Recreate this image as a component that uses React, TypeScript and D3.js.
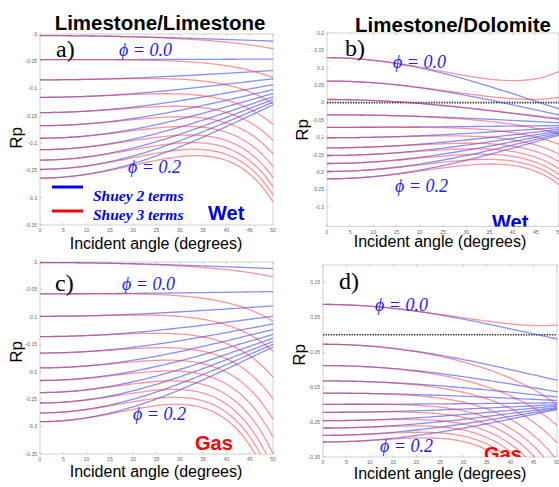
import React from 'react'
import * as d3 from 'd3'

// axis ticks
const angleTicks = [0, 5, 10, 15, 20, 25, 30, 35, 40, 45, 50]
const llTicks = [0, -0.05, -0.1, -0.15, -0.2, -0.25, -0.3, -0.35]
const ldWetTicks = [0.2, 0.15, 0.1, 0.05, 0, -0.05, -0.1, -0.15, -0.2, -0.25, -0.3]
const ldGasTicks = [0.15, 0.05, -0.05, -0.15, -0.25, -0.35]

// one value per porosity step (phi = 0.0 ... 0.2)
// r0 = Rp at normal incidence, blue50 / red50 = 2-term / 3-term Rp at 50 deg
const llWetR0 = [-0.003, -0.047, -0.084, -0.116, -0.144, -0.168, -0.191, -0.212, -0.231, -0.248, -0.264]
const llWetBlue50 = [-0.013, -0.046, -0.067, -0.082, -0.093, -0.102, -0.109, -0.115, -0.12, -0.125, -0.13]
const llWetRed50 = [-0.027, -0.08, -0.128, -0.166, -0.195, -0.22, -0.243, -0.263, -0.28, -0.295, -0.308]

const ldWetR0 = [0.129, 0.062, 0.009, -0.035, -0.071, -0.101, -0.13, -0.152, -0.175, -0.198, -0.219]
const ldWetBlue50 = [-0.018, -0.035, -0.048, -0.058, -0.066, -0.072, -0.077, -0.082, -0.086, -0.09, -0.094]
const ldWetRed50 = [0.09, 0.015, -0.045, -0.09, -0.12, -0.148, -0.17, -0.19, -0.207, -0.222, -0.236]

const llGasR0 = [-0.001, -0.058, -0.099, -0.136, -0.166, -0.193, -0.216, -0.238, -0.257, -0.275, -0.291]
const llGasBlue50 = [-0.012, -0.054, -0.08, -0.099, -0.113, -0.123, -0.132, -0.139, -0.145, -0.15, -0.155]
const llGasRed50 = [-0.027, -0.108, -0.163, -0.21, -0.25, -0.287, -0.32, -0.35, -0.377, -0.4, -0.42]

const ldGasR0 = [0.087, -0.027, -0.088, -0.132, -0.167, -0.199, -0.222, -0.246, -0.267, -0.288, -0.307]
const ldGasBlue50 = [-0.012, -0.13, -0.163, -0.178, -0.188, -0.195, -0.2, -0.204, -0.208, -0.211, -0.214]
const ldGasRed50 = [0.028, -0.2, -0.26, -0.31, -0.36, -0.4, -0.44, -0.48, -0.52, -0.56, -0.6]

const titles = ['Limestone/Limestone', 'Limestone/Dolomite']
const legendLabels = ['Shuey 2 terms', 'Shuey 3 terms']
const phiLabels = ['\u03d5 = 0.0', '\u03d5 = 0.2']

const sans = 'Liberation Sans, Arial, sans-serif'
const serif = 'Liberation Serif, Times New Roman, serif'

const rad = (a: number) => (a * Math.PI) / 180
const sin2 = (a: number) => Math.sin(rad(a)) ** 2
const tan2 = (a: number) => Math.tan(rad(a)) ** 2
const samples = d3.range(0, 50.001, 0.5)

type Panel = {
  id: string
  x0: number; x1: number; yTop: number; yBot: number
  yDomain: [number, number]
  yTicks: number[]
  r0: number[]; blue50: number[]; red50: number[]
  letter: string; letterPos: [number, number]
  phi0Pos: [number, number]; phi2Pos: [number, number]
  fluid: string; fluidColor: string; fluidPos: [number, number]
  zeroLine: boolean
  rpPos: [number, number]; xlabPos: [number, number]
  legend: boolean
}

const panels: Panel[] = [
  {
    id: 'a', x0: 40, x1: 273, yTop: 34, yBot: 225, yDomain: [-0.35, 0], yTicks: llTicks,
    r0: llWetR0, blue50: llWetBlue50, red50: llWetRed50,
    letter: 'a)', letterPos: [56, 57], phi0Pos: [119, 56], phi2Pos: [128, 173],
    fluid: 'Wet', fluidColor: '#0000e8', fluidPos: [208, 220], zeroLine: false,
    rpPos: [22, 138], xlabPos: [156, 249], legend: true,
  },
  {
    id: 'b', x0: 327, x1: 559, yTop: 33, yBot: 226.5, yDomain: [-0.356, 0.2], yTicks: ldWetTicks,
    r0: ldWetR0, blue50: ldWetBlue50, red50: ldWetRed50,
    letter: 'b)', letterPos: [345, 56], phi0Pos: [393, 68], phi2Pos: [395, 192],
    fluid: 'Wet', fluidColor: '#0000e8', fluidPos: [492, 229], zeroLine: true,
    rpPos: [308, 130], xlabPos: [440, 247], legend: false,
  },
  {
    id: 'c', x0: 40, x1: 273, yTop: 262, yBot: 454, yDomain: [-0.35, 0], yTicks: llTicks,
    r0: llGasR0, blue50: llGasBlue50, red50: llGasRed50,
    letter: 'c)', letterPos: [55, 291], phi0Pos: [122, 290], phi2Pos: [133, 420],
    fluid: 'Gas', fluidColor: '#ff0000', fluidPos: [195, 450], zeroLine: false,
    rpPos: [22, 352], xlabPos: [156, 477], legend: false,
  },
  {
    id: 'd', x0: 323, x1: 557, yTop: 265, yBot: 457, yDomain: [-0.35, 0.2], yTicks: ldGasTicks,
    r0: ldGasR0, blue50: ldGasBlue50, red50: ldGasRed50,
    letter: 'd)', letterPos: [339, 289], phi0Pos: [375, 311], phi2Pos: [380, 452],
    fluid: 'Gas', fluidColor: '#ff0000', fluidPos: [484, 461], zeroLine: true,
    rpPos: [305, 355], xlabPos: [440, 479], legend: false,
  },
]

function PanelView({ p }: { p: Panel }) {
  const x = d3.scaleLinear().domain([0, 50]).range([p.x0, p.x1])
  const y = d3.scaleLinear().domain(p.yDomain).range([p.yBot, p.yTop])

  // Shuey: A + B sin^2 + C (tan^2 - sin^2), B and C taken from the 50 deg readings
  const curve = (i: number, terms: number) => {
    const A = p.r0[i]
    const B = (p.blue50[i] - A) / sin2(50)
    const C = (p.red50[i] - p.blue50[i]) / (tan2(50) - sin2(50))
    const line = d3.line<number>()
      .x(a => x(a))
      .y(a => y(A + B * sin2(a) + (terms === 3 ? C * (tan2(a) - sin2(a)) : 0)))
    return line(samples) || ''
  }

  const clip = `clip-${p.id}`
  return (
    <g>
      <defs>
        <clipPath id={clip}>
          <rect x={p.x0} y={p.yTop} width={p.x1 - p.x0} height={p.yBot - p.yTop} />
        </clipPath>
      </defs>
      <rect x={p.x0} y={p.yTop} width={p.x1 - p.x0} height={p.yBot - p.yTop} fill="#fff" stroke="#d2d2d2" strokeWidth={1} />

      {angleTicks.map(t => (
        <g key={'xt' + t}>
          <line x1={x(t)} x2={x(t)} y1={p.yBot} y2={p.yBot - 2} stroke="#aaa" strokeWidth={0.6} />
          <line x1={x(t)} x2={x(t)} y1={p.yTop} y2={p.yTop + 2} stroke="#aaa" strokeWidth={0.6} />
          <text x={x(t)} y={p.yBot + 7} fontSize={5} fill="#666" textAnchor="middle" fontFamily={sans}>{t}</text>
        </g>
      ))}
      {p.yTicks.map(t => (
        <g key={'yt' + t}>
          <line x1={p.x0} x2={p.x0 + 2} y1={y(t)} y2={y(t)} stroke="#aaa" strokeWidth={0.6} />
          <text x={p.x0 - 3} y={y(t) + 1.8} fontSize={5} fill="#666" textAnchor="end" fontFamily={sans}>{t}</text>
        </g>
      ))}

      <g clipPath={`url(#${clip})`}>
        {p.zeroLine && (
          <line x1={p.x0} x2={p.x1} y1={y(0)} y2={y(0)} stroke="#333" strokeWidth={1.6} strokeDasharray="1.4 1.2" />
        )}
        {p.r0.map((_, i) => (
          <path key={'b' + i} d={curve(i, 2)} fill="none" stroke="#2233ff" strokeOpacity={0.55} strokeWidth={1.3} />
        ))}
        {p.r0.map((_, i) => (
          <path key={'r' + i} d={curve(i, 3)} fill="none" stroke="#ff2a3a" strokeOpacity={0.5} strokeWidth={1.3} />
        ))}
        <text x={p.fluidPos[0]} y={p.fluidPos[1]} fontSize={20} fontWeight="bold" fill={p.fluidColor} fontFamily={sans}>{p.fluid}</text>
      </g>

      <text x={p.letterPos[0]} y={p.letterPos[1]} fontSize={24} fontFamily={serif} fill="#000">{p.letter}</text>
      <text x={p.phi0Pos[0]} y={p.phi0Pos[1]} fontSize={18} fontStyle="italic" fontFamily={serif} fill="#1a1aff">{phiLabels[0]}</text>
      <text x={p.phi2Pos[0]} y={p.phi2Pos[1]} fontSize={18} fontStyle="italic" fontFamily={serif} fill="#1a1aff">{phiLabels[1]}</text>

      {p.legend && (
        <g>
          <line x1={52} x2={83} y1={187} y2={187} stroke="#0000ff" strokeWidth={3} />
          <line x1={52} x2={83} y1={211} y2={211} stroke="#ff0000" strokeWidth={3} />
          <text x={93} y={201} fontSize={15.5} fontStyle="italic" fontWeight="bold" fontFamily={serif} fill="#0000ff">{legendLabels[0]}</text>
          <text x={93} y={220} fontSize={15.5} fontStyle="italic" fontWeight="bold" fontFamily={serif} fill="#0000ff">{legendLabels[1]}</text>
        </g>
      )}

      <text transform={`translate(${p.rpPos[0]},${p.rpPos[1]}) rotate(-90)`} fontSize={17} textAnchor="middle" fontFamily={sans} fill="#000">Rp</text>
      <text x={p.xlabPos[0]} y={p.xlabPos[1]} fontSize={16} textAnchor="middle" fontFamily={sans} fill="#000">Incident angle (degrees)</text>
    </g>
  )
}

export default function App() {
  return (
    <svg width={559} height={487} style={{ position: 'absolute', left: 0, top: 0, background: '#fff' }}>
      <rect width={559} height={487} fill="#fff" />
      {panels.map(p => <PanelView key={p.id} p={p} />)}
      <text x={160} y={30} fontSize={20.5} fontWeight="bold" textAnchor="middle" fontFamily={sans}>{titles[0]}</text>
      <text x={453} y={32} fontSize={20.5} fontWeight="bold" textAnchor="middle" fontFamily={sans}>{titles[1]}</text>
    </svg>
  )
}
